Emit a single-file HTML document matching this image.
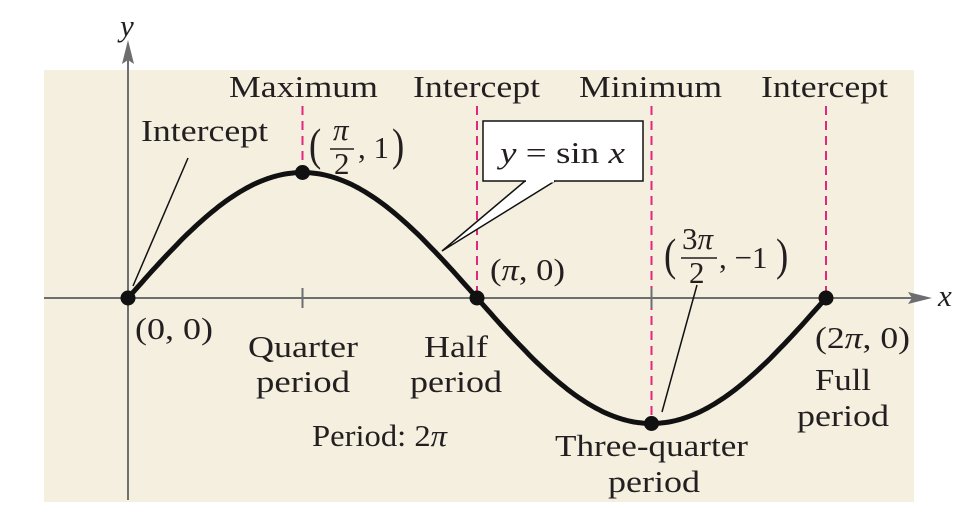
<!DOCTYPE html>
<html><head><meta charset="utf-8"><style>
body{margin:0;background:#fff;}
svg{display:block;font-family:"Liberation Serif",serif;}
text{font-size:31px;fill:#231f20;}
.i{font-style:italic;}
</style></head><body>
<svg width="972" height="516">
<rect x="44" y="70" width="870" height="432" fill="#f4efdf"/>
<g id="guides"></g>
<line x1="44" y1="298" x2="912" y2="298" stroke="#6d6e70" stroke-width="2"/>
<polygon points="932,298 908,292 912,298 908,304" fill="#6d6e70"/>
<line x1="128" y1="500" x2="128" y2="60" stroke="#6d6e70" stroke-width="2"/>
<polygon points="128,40 122,64 128,60 134,64" fill="#6d6e70"/>
<text x="938" y="306" class="i">x</text>
<text x="120" y="36" class="i">y</text>
<path id="curve" fill="none" stroke="#111" stroke-width="5"/>
<g id="pts"></g>
<line x1="133" y1="286" x2="188" y2="158" stroke="#111" stroke-width="1.5"/>
<line x1="662" y1="412" x2="697" y2="285" stroke="#111" stroke-width="1.5"/>
<polygon points="442,251 525,181 555,181" fill="#fff" stroke="#111" stroke-width="1.5"/>
<rect x="483" y="121" width="160" height="60" fill="#fff" stroke="#111" stroke-width="1.5"/>
<line x1="526" y1="181" x2="554" y2="181" stroke="#fff" stroke-width="3"/>
<text x="500" y="163" textLength="125" lengthAdjust="spacingAndGlyphs"><tspan class="i">y</tspan> = sin <tspan class="i">x</tspan></text>
<text x="229" y="97" textLength="149" lengthAdjust="spacingAndGlyphs">Maximum</text>
<text x="413" y="97" textLength="127" lengthAdjust="spacingAndGlyphs">Intercept</text>
<text x="579" y="97" textLength="143" lengthAdjust="spacingAndGlyphs">Minimum</text>
<text x="761" y="97" textLength="127" lengthAdjust="spacingAndGlyphs">Intercept</text>
<text x="141" y="141" textLength="127" lengthAdjust="spacingAndGlyphs">Intercept</text>
<g>
<text x="309" y="160" style="font-size:46px" transform="translate(309 160) scale(0.8 1) translate(-309 -160)">(</text>
<text x="333" y="140" class="i">π</text>
<line x1="330" y1="149" x2="354" y2="149" stroke="#231f20" stroke-width="1.5"/>
<text x="334" y="174">2</text>
<text x="358" y="158">, 1</text>
<text x="392" y="160" style="font-size:46px" transform="translate(392 160) scale(0.8 1) translate(-392 -160)">)</text>
</g>
<g>
<text x="664" y="270" style="font-size:46px" transform="translate(664 270) scale(0.8 1) translate(-664 -270)">(</text>
<text x="682" y="249">3<tspan class="i">π</tspan></text>
<line x1="681" y1="258" x2="717" y2="258" stroke="#231f20" stroke-width="1.5"/>
<text x="689" y="283">2</text>
<text x="719" y="268">, −1</text>
<text x="776" y="270" style="font-size:46px" transform="translate(776 270) scale(0.8 1) translate(-776 -270)">)</text>
</g>
<text x="490" y="280" textLength="75" lengthAdjust="spacingAndGlyphs">(<tspan class="i">π</tspan>, 0)</text>
<text x="135" y="339" textLength="78" lengthAdjust="spacingAndGlyphs">(0, 0)</text>
<text x="815" y="348" textLength="95" lengthAdjust="spacingAndGlyphs">(2<tspan class="i">π</tspan>, 0)</text>
<text x="248" y="357" textLength="110" lengthAdjust="spacingAndGlyphs">Quarter</text>
<text x="256" y="392" textLength="94" lengthAdjust="spacingAndGlyphs">period</text>
<text x="424" y="357" textLength="64" lengthAdjust="spacingAndGlyphs">Half</text>
<text x="410" y="392" textLength="92" lengthAdjust="spacingAndGlyphs">period</text>
<text x="312" y="446" textLength="135" lengthAdjust="spacingAndGlyphs">Period: 2<tspan class="i">π</tspan></text>
<text x="555" y="456" textLength="193" lengthAdjust="spacingAndGlyphs">Three-quarter</text>
<text x="608" y="492" textLength="92" lengthAdjust="spacingAndGlyphs">period</text>
<text x="815" y="390" textLength="56" lengthAdjust="spacingAndGlyphs">Full</text>
<text x="797" y="426" textLength="92" lengthAdjust="spacingAndGlyphs">period</text>
</svg>
<script>
const keyX = [0, 1, 2, 3, 4]; // in units of pi/2
const keyY = [0, 1, 0, -1, 0];
const guideX = [1, 2, 3, 4];
const tickX = [1, 3];
const sx = v => 128 + v * 174.5;
const sy = v => 298 - v * 125.5;
const NS = "http://www.w3.org/2000/svg";
let d = "";
for (let i = 0; i <= 200; i++) {
  const t = i / 200 * 4;
  d += (i ? "L" : "M") + sx(t).toFixed(1) + "," + sy(Math.sin(t * Math.PI / 2)).toFixed(1);
}
document.getElementById("curve").setAttribute("d", d);
const g = document.getElementById("guides");
guideX.forEach((v, i) => {
  const l = document.createElementNS(NS, "line");
  const yEnd = sy(keyY[keyX.indexOf(v)]);
  l.setAttribute("x1", sx(v)); l.setAttribute("x2", sx(v));
  l.setAttribute("y1", 106); l.setAttribute("y2", Math.max(yEnd, 106));
  l.setAttribute("stroke", "#e3267f"); l.setAttribute("stroke-width", "2");
  l.setAttribute("stroke-dasharray", "9,6");
  
  
  g.appendChild(l);
});
tickX.forEach(v => {
  const l = document.createElementNS(NS, "line");
  l.setAttribute("x1", sx(v)); l.setAttribute("x2", sx(v));
  l.setAttribute("y1", 288); l.setAttribute("y2", 308);
  l.setAttribute("stroke", "#6d6e70"); l.setAttribute("stroke-width", "2");
  
  
  g.appendChild(l);
});
const p = document.getElementById("pts");
keyX.forEach((v, i) => {
  const c = document.createElementNS(NS, "circle");
  c.setAttribute("cx", sx(v)); c.setAttribute("cy", sy(keyY[i])); c.setAttribute("r", 7.5);
  c.setAttribute("fill", "#111");
  
  
  p.appendChild(c);
});
</script>
</body></html>
